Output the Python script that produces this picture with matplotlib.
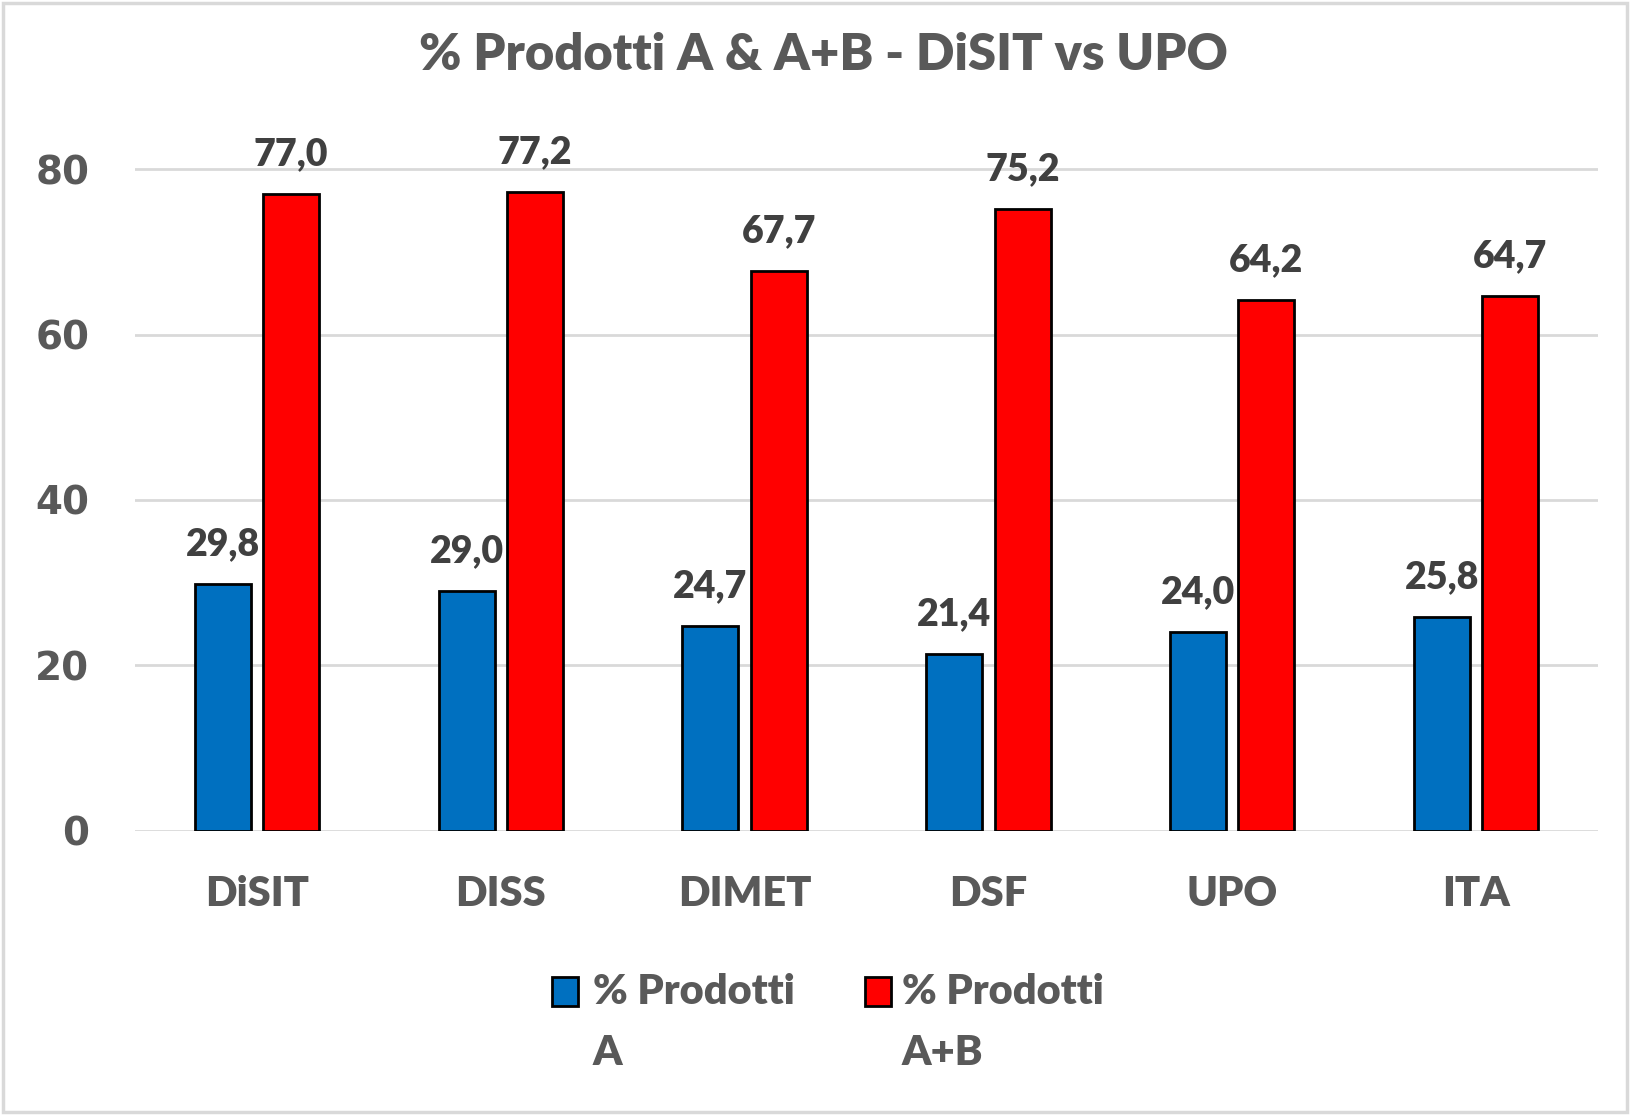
import matplotlib.pyplot as plt
import matplotlib.patches as mpatches
import numpy as np

# Data
categories = ['DiSIT', 'DISS', 'DIMET', 'DSF', 'UPO', 'ITA']
prod_a = [29.8, 29.0, 24.7, 21.4, 24.0, 25.8]
prod_ab = [77.0, 77.2, 67.7, 75.2, 64.2, 64.7]
series_labels = ['% Prodotti\nA', '% Prodotti\nA+B']
yticks = [0, 20, 40, 60, 80]

col_a = '#0070C0'
col_ab = '#FF0000'
grey_txt = '#595959'
grid_col = '#D9D9D9'

fig = plt.figure(figsize=(16.3, 11.15), dpi=100)
ax = fig.add_axes([0.0828, 0.2551, 0.8976, 0.6375])

x = np.arange(len(categories))
w = 0.23
off = 0.14
bars_a = ax.bar(x - off, prod_a, width=w, color=col_a, edgecolor='black', linewidth=2, zorder=3)
bars_ab = ax.bar(x + off, prod_ab, width=w, color=col_ab, edgecolor='black', linewidth=2, zorder=3)

# value labels, Italian decimal comma
for bars, vals in [(bars_a, prod_a), (bars_ab, prod_ab)]:
    for b, v in zip(bars, vals):
        ax.annotate(f'{v:.1f}'.replace('.', ','),
                    (b.get_x() + b.get_width() / 2, v),
                    xytext=(0, 40), textcoords='offset pixels',
                    ha='center', va='center', fontsize=27, fontweight='heavy',
                    color='#404040', family='Lato', clip_on=False)

ax.set_xlim(-0.5, len(categories) - 0.5)
ax.set_ylim(0, 86)
ax.set_yticks(yticks)
ax.set_yticklabels([str(t) for t in yticks], fontsize=28, fontweight='bold',
                   color=grey_txt, family='DejaVu Sans')
ax.set_xticks(x)
ax.set_xticklabels(categories, fontsize=30, fontweight='heavy', color=grey_txt, family='Lato')
ax.tick_params(axis='y', length=0, pad=33)
ax.tick_params(axis='x', length=0, pad=32)
ax.grid(axis='y', color=grid_col, linewidth=2, zorder=0)
ax.set_axisbelow(True)
for s in ax.spines.values():
    s.set_visible(False)

# Title
fig.text(0.505, 0.951, '% Prodotti A & A+B - DiSIT vs UPO', ha='center', va='center',
         fontsize=36.5, fontweight='heavy', color=grey_txt, family='Lato')

# Legend drawn by hand (Excel style, wrapped labels)
leg_items = [(col_a, 552, 593), (col_ab, 865, 902)]
for (c, hx, tx), lab in zip(leg_items, series_labels):
    fig.patches.append(mpatches.Rectangle((hx / 1630, 1 - 1006 / 1115), 26 / 1630, 29 / 1115,
                                          transform=fig.transFigure, facecolor=c,
                                          edgecolor='black', linewidth=2))
    l1, l2 = lab.split('\n')
    fig.text(tx / 1630, 1 - 992 / 1115, l1, ha='left', va='center', fontsize=30,
             fontweight='heavy', color=grey_txt, family='Lato')
    fig.text(tx / 1630, 1 - 1053 / 1115, l2, ha='left', va='center', fontsize=30,
             fontweight='heavy', color=grey_txt, family='Lato')

# chart area border
fig.patches.append(mpatches.Rectangle((3 / 1630, 3 / 1115), 1 - 6 / 1630, 1 - 6 / 1115,
                                      transform=fig.transFigure, fill=False,
                                      edgecolor=grid_col, linewidth=2.5))

fig.savefig('out.png', dpi=100)
